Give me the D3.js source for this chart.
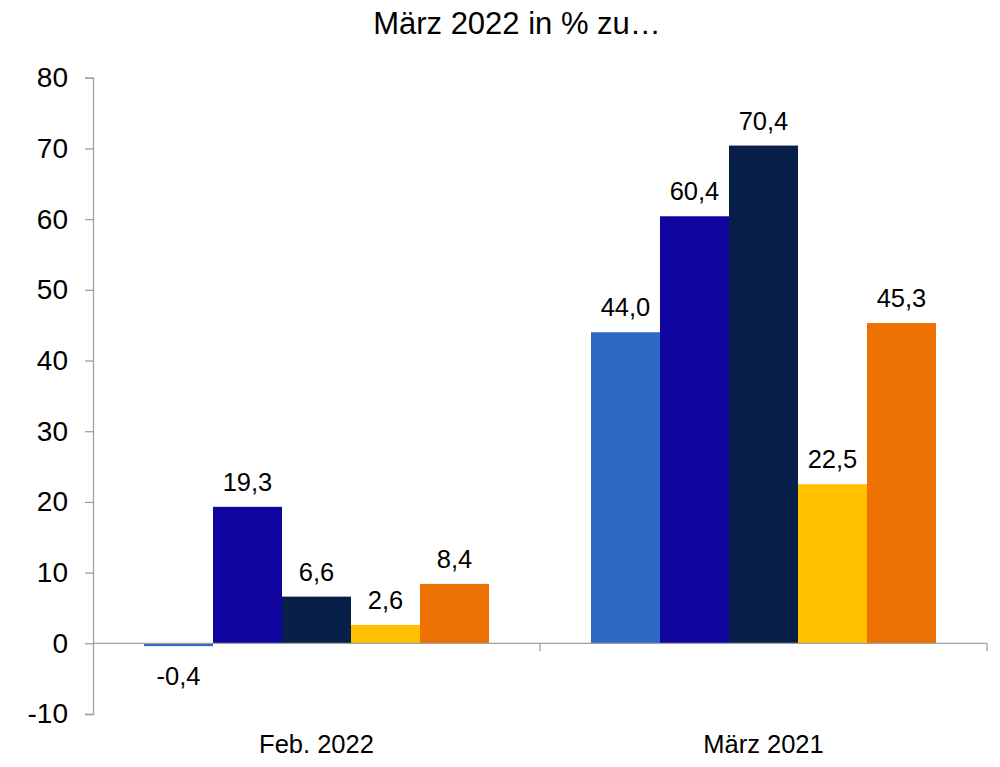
<!DOCTYPE html>
<html><head><meta charset="utf-8">
<script src="https://cdn.jsdelivr.net/npm/d3@7"></script>
<style>body{margin:0;background:#fff;} svg{display:block;font-family:"Liberation Sans",Arial,sans-serif;}</style>
</head><body><svg id="c" width="1000" height="767"></svg>
<script>
const categories = ["Feb. 2022", "März 2021"];
const series = ["s1", "s2", "s3", "s4", "s5"];
const seriesColors = ["#2F69C6", "#10069F", "#081F4A", "#FFC000", "#EE7203"];
const valuesFeb2022 = [-0.4, 19.3, 6.6, 2.6, 8.4];
const valuesMar2021 = [44.0, 60.4, 70.4, 22.5, 45.3];
const yTicks = [-10, 0, 10, 20, 30, 40, 50, 60, 70, 80];
const title = "März 2022 in % zu…";

(function () {
const data = categories.map((c, i) => ({cat: c, vals: [valuesFeb2022, valuesMar2021][i]}));
const svg = d3.select("#c");
const mLeft = 93, mRight = 987, mTop = 77.7, mBottom = 714;
const y = d3.scaleLinear().domain([-10, 80]).range([mBottom, mTop]);
const x0 = d3.scaleBand().domain(categories).range([mLeft, mRight]).padding(0);
const x1 = d3.scaleBand().domain(series).range([0, x0.bandwidth()]).paddingInner(0).paddingOuter(0.739);
const color = d3.scaleOrdinal().domain(series).range(seriesColors);
const fmt = v => d3.format(".1f")(v).replace(".", ",").replace("−", "-");

svg.append("text").attr("x", 517).attr("y", 34).attr("text-anchor", "middle")
  .attr("font-size", 31).attr("fill", "#000").text(title);

// y axis
const yAxis = d3.axisLeft(y).tickValues(yTicks).tickSize(8).tickPadding(17).tickFormat(d => String(d));
const gy = svg.append("g").attr("transform", `translate(${mLeft},0)`).call(yAxis);
gy.select(".domain").attr("stroke", "#A0A0A0").attr("stroke-width", 1.3);
gy.selectAll(".tick line").attr("stroke", "#A0A0A0").attr("stroke-width", 1.3);
gy.selectAll(".tick text").attr("font-size", 28).attr("fill", "#000").attr("font-family", "Liberation Sans, Arial, sans-serif");

// bars
const g = svg.append("g");
data.forEach(d => {
  const gg = g.append("g").attr("transform", `translate(${x0(d.cat)},0)`);
  const items = d.vals.map((v, i) => ({v, s: series[i]}));
  gg.selectAll("rect").data(items).join("rect")
    .attr("x", e => x1(e.s)).attr("width", x1.bandwidth())
    .attr("y", e => y(Math.max(0, e.v))).attr("height", e => Math.abs(y(e.v) - y(0)))
    .attr("fill", e => color(e.s));
  gg.selectAll("text").data(items).join("text")
    .attr("x", e => x1(e.s) + x1.bandwidth() / 2)
    .attr("y", e => e.v >= 0 ? y(e.v) - 16 : y(e.v) + 39)
    .attr("text-anchor", "middle").attr("font-size", 25.5).attr("fill", "#000")
    .text(e => fmt(e.v));
});

// x axis at zero
const gx = svg.append("g").attr("transform", `translate(0,${y(0)})`);
gx.append("line").attr("x1", mLeft).attr("x2", mRight).attr("y1", 0).attr("y2", 0).attr("stroke", "#A0A0A0").attr("stroke-width", 1.3);
[mLeft + x0.bandwidth(), mRight].forEach(xx => {
  gx.append("line").attr("x1", xx).attr("x2", xx).attr("y1", 0).attr("y2", 8).attr("stroke", "#A0A0A0").attr("stroke-width", 1.3);
});
// category labels
svg.append("g").selectAll("text").data(categories).join("text")
  .attr("x", c => x0(c) + x0.bandwidth() / 2).attr("y", 753)
  .attr("text-anchor", "middle").attr("font-size", 25.5).attr("fill", "#000").text(c => c);
})();
</script></body></html>
